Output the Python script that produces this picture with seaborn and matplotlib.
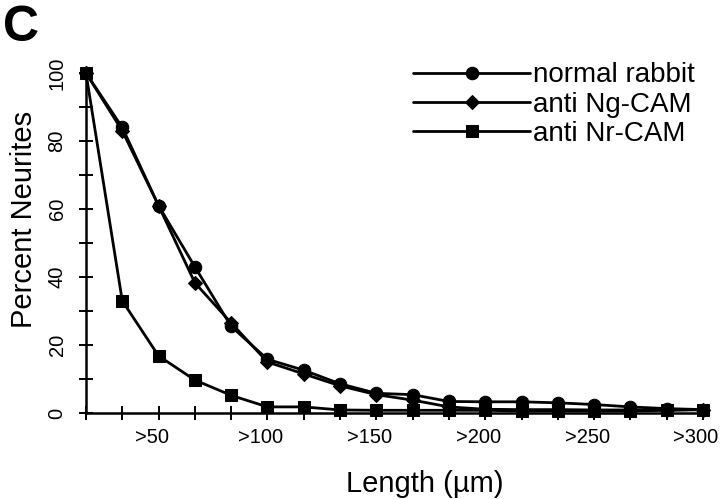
import pandas as pd
import matplotlib
matplotlib.use("Agg")
import matplotlib.pyplot as plt
import matplotlib.transforms as mtransforms
import seaborn as sns
from matplotlib.ticker import MultipleLocator, FixedLocator

# length bins (18 classes), every third one is labelled
bins = list(range(18))
bin_labels = {2: ">50", 5: ">100", 8: ">150", 11: ">200", 14: ">250", 17: ">300"}

normal_rabbit = [100, 84, 61, 43, 25.5, 15.8, 12.6, 8.6, 5.8, 5.4, 3.4, 3.3, 3.3, 3.0, 2.5, 1.8, 1.3, 1.0]
anti_ng_cam = [100, 83, 61, 38.3, 26.5, 15.0, 11.5, 8.0, 5.4, 3.8, 1.8, 1.1, 1.0, 1.0, 0.9, 0.9, 0.9, 1.0]
anti_nr_cam = [100, 33, 16.8, 9.7, 5.2, 1.8, 1.8, 0.9, 0.8, 0.8, 0.8, 0.8, 0.6, 0.6, 0.6, 0.6, 0.8, 1.0]

series = {
    "normal rabbit": normal_rabbit,
    "anti Ng-CAM": anti_ng_cam,
    "anti Nr-CAM": anti_nr_cam,
}

rows = []
for name, vals in series.items():
    for b, v in zip(bins, vals):
        rows.append({"bin": b, "pct": v, "group": name})
df = pd.DataFrame(rows)

sns.set_style("ticks")
plt.rcParams["font.family"] = ["Liberation Sans", "DejaVu Sans"]
plt.rcParams.update({"text.color": "black", "axes.labelcolor": "black",
                     "xtick.color": "black", "ytick.color": "black"})

fig = plt.figure(figsize=(7.2, 4.99), dpi=100)
ax = fig.add_axes([0.1194, 0.1723, 0.857, 0.6814])

sns.lineplot(data=df, x="bin", y="pct", style="group",
             markers={"normal rabbit": "o", "anti Ng-CAM": "D", "anti Nr-CAM": "s"},
             dashes=False, color="black", markersize=9, linewidth=2.0, markeredgecolor="black",
             legend=True, ax=ax, sort=False)
for line in ax.lines:
    line.set_clip_on(False)
    if line.get_marker() == "D":
        line.set_markersize(7.5)

ax.set_xlim(0, 17)
ax.set_ylim(0, 100)
sns.despine(ax=ax)
for sp in ["left", "bottom"]:
    ax.spines[sp].set_linewidth(1.8)
    ax.spines[sp].set_color("black")

ax.xaxis.set_major_locator(FixedLocator(list(bin_labels.keys())))
ax.set_xticklabels(list(bin_labels.values()))
ax.xaxis.set_minor_locator(FixedLocator(bins))
ax.yaxis.set_major_locator(MultipleLocator(20))
ax.yaxis.set_minor_locator(MultipleLocator(10))
ax.tick_params(which="both", direction="inout", length=10, width=1.4, color="black", labelcolor="black")
ax.tick_params(axis="x", labelsize=14.5, pad=6)
ax.tick_params(axis="y", which="major", labelsize=14.5, pad=9, labelrotation=90)
for lab in ax.get_yticklabels():
    lab.set_va("center")
# x labels sit a little left of their ticks in the original
shift = mtransforms.ScaledTranslation(-7 / 100, 0, fig.dpi_scale_trans)
for lab in ax.get_xticklabels():
    lab.set_transform(lab.get_transform() + shift)

ax.set_xlabel("Length (µm)", fontsize=21, color="black")
ax.set_ylabel("Percent Neurites", fontsize=21, color="black")
ax.xaxis.set_label_coords(0.549, -0.168)
ax.yaxis.set_label_coords(-0.078, 0.57)

handles, labels = ax.get_legend_handles_labels()
leg = ax.legend(handles, labels, loc="upper left", bbox_to_anchor=(0.574, 0.875), bbox_transform=fig.transFigure,
                frameon=False, fontsize=20, handlelength=4.2, handletextpad=0.1, labelspacing=0.12,
                borderpad=0, borderaxespad=0)
for t in leg.get_texts():
    t.set_color("black")

fig.text(0.004, 0.99, "C", fontsize=36, fontweight="bold", va="top", ha="left", color="black")

fig.savefig("out.png", dpi=100)
